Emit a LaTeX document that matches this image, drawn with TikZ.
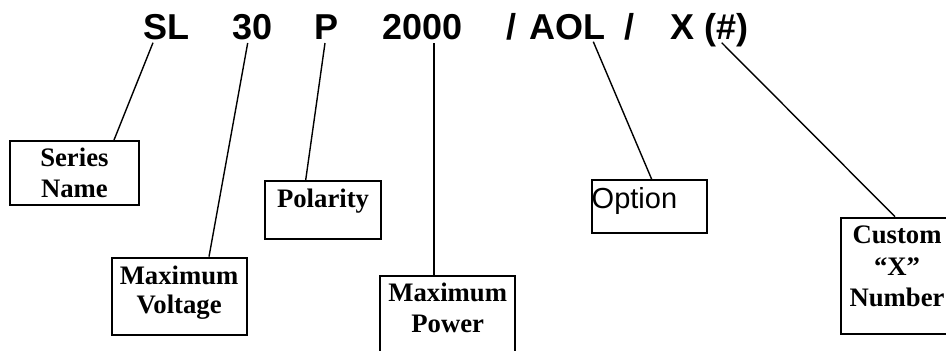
\documentclass[tikz,border=0pt]{standalone}
\usepackage{fontspec}
\setmainfont{Liberation Serif}
\newfontfamily\arialf{Liberation Sans}
\usetikzlibrary{calc}
\begin{document}
\begin{tikzpicture}[x=1pt,y=-1pt,
  code/.style={inner sep=0pt, anchor=base west, font=\arialf\bfseries\fontsize{36}{40}\selectfont},
  box/.style={draw, line width=1.8pt, inner sep=0pt, anchor=north west},
  lbl/.style={inner sep=0pt, anchor=base, font=\bfseries\fontsize{26.7}{30}\selectfont},
  optlbl/.style={inner sep=0pt, anchor=base west, font=\arialf\fontsize{29}{32}\selectfont},
  lead/.style={line width=1.4pt}]
\useasboundingbox (0,0) rectangle (946,351);
\clip (0,0) rectangle (946,351);
% code string
\node[code] (sl) at (143.7,39) {SL};
\node[code] (v30) at (232,39) {30};
\node[code] (pp) at (314.3,39) {P};
\node[code] (pw) at (382,39) {2000};
\node[code] (sa) at (506,39) {/};
\node[code] (aol) at (529,39) {AOL};
\node[code] (sb) at (624,39) {/};
\node[code] (xx) at (670,39) {X (\#)};
% boxes
\node[box, minimum width=128.4pt, minimum height=64pt] (sn) at (9.3,140) {};
\node[box, minimum width=135pt, minimum height=77.3pt] (mv) at (110.7,256.7) {};
\node[box, minimum width=115.7pt, minimum height=57.7pt] (pol) at (264.3,180) {};
\node[box, minimum width=135pt, minimum height=100pt] (mp) at (379.3,275.3) {};
\node[box, minimum width=115pt, minimum height=53pt] (opt) at (590.7,179.3) {};
\node[box, minimum width=116pt, minimum height=116pt] (cx) at (840,216.7) {};
% labels
\node[lbl] (sn1) at ($(sn.north)+(0,26.7)$) {Series};
\node[lbl] (sn2) at ($(sn.north)+(0,57.7)$) {Name};
\node[lbl] (mv1) at ($(mv.north)+(0,27.3)$) {Maximum};
\node[lbl] (mv2) at ($(mv.north)+(0,56.6)$) {Voltage};
\node[lbl] (polt) at ($(pol.north)+(0,27)$) {Polarity};
\node[lbl] (mp1) at ($(mp.north)+(0,26.4)$) {Maximum};
\node[lbl] (mp2) at ($(mp.north)+(0,57.4)$) {Power};
\node[optlbl] (optt) at ($(opt.north west)+(0.8,28.7)$) {Option};
\node[lbl] (cx1) at ($(cx.north west)+(57,26.6)$) {Custom};
\node[lbl] (cx2) at ($(cx.north west)+(57,59)$) {“X”};
\node[lbl] (cx3) at ($(cx.north west)+(57,90)$) {Number};
% leader lines
\draw[lead] ($(sl.base west)+(9.3,3.7)$) -- ($(sn.north west)+(104.7,0)$);
\draw[lead] ($(v30.base west)+(15.7,4)$) -- ($(mv.north west)+(98.3,0)$);
\draw[lead] ($(pp.base west)+(10.7,4)$) -- ($(pol.north west)+(41.4,0)$);
\draw[lead] ($(pw.base west)+(52,4)$) -- ($(mp.north west)+(54.7,0)$);
\draw[lead] ($(aol.base west)+(64.3,2.7)$) -- ($(opt.north west)+(61,0)$);
\draw[lead] ($(xx.base west)+(51.7,3.7)$) -- ($(cx.north west)+(55,0)$);
\end{tikzpicture}
\end{document}
